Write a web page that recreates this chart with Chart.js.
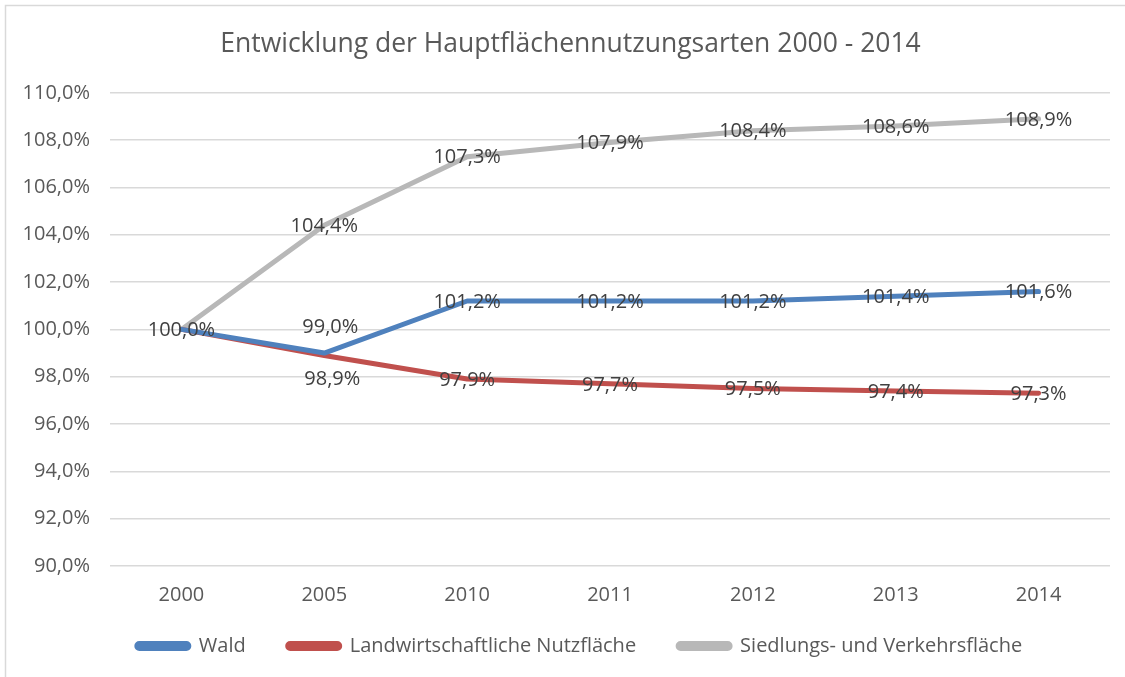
<!DOCTYPE html>
<html>
<head>
<meta charset="utf-8">
<script src="https://cdn.jsdelivr.net/npm/chart.js@4.4.1/dist/chart.umd.min.js"></script>
<style>
  html, body { margin: 0; padding: 0; background: #ffffff; }
  #wrap { width: 1125px; height: 677px; position: relative; }
</style>
</head>
<body>
<div id="wrap"><canvas id="c" width="1125" height="677"></canvas></div>
<script>
const categories = ['2000', '2005', '2010', '2011', '2012', '2013', '2014'];
const wald = [100.0, 99.0, 101.2, 101.2, 101.2, 101.4, 101.6];
const landwirtschaft = [100.0, 98.9, 97.9, 97.7, 97.5, 97.4, 97.3];
const siedlung = [100.0, 104.4, 107.3, 107.9, 108.4, 108.6, 108.9];
const seriesNames = ['Wald', 'Landwirtschaftliche Nutzfläche', 'Siedlungs- und Verkehrsfläche'];
const titleText = 'Entwicklung der Hauptflächennutzungsarten 2000 - 2014';

const FONT = '"Open Sans", "Noto Sans", sans-serif';
const fmt = v => v.toFixed(1).replace('.', ',') + '%';

// label placement tweaks (dataset index -> point index -> [dx, dy] in px)
const labelShift = { 0: { 1: [6, -27] }, 1: { 1: [8, 23] } };
const labelSkip = { 1: [0], 2: [0] };

const dataLabels = {
  id: 'dataLabels',
  afterDatasetsDraw(chart) {
    const ctx = chart.ctx;
    ctx.save();
    ctx.font = '20px ' + FONT;
    ctx.fillStyle = '#404040';
    ctx.textAlign = 'center';
    ctx.textBaseline = 'middle';
    chart.data.datasets.forEach((ds, di) => {
      const meta = chart.getDatasetMeta(di);
      meta.data.forEach((pt, i) => {
        if (labelSkip[di] && labelSkip[di].includes(i)) return;
        const sh = (labelShift[di] && labelShift[di][i]) || [0, 0];
        ctx.fillText(fmt(ds.data[i]), pt.x + sh[0], pt.y + 1 + sh[1]);
      });
    });
    ctx.restore();
  }
};

const frame = {
  id: 'frame',
  beforeDraw(chart) {
    const ctx = chart.ctx;
    ctx.save();
    ctx.fillStyle = '#ffffff';
    ctx.fillRect(0, 0, chart.width, chart.height);
    ctx.strokeStyle = '#d9d9d9';
    ctx.lineWidth = 1.5;
    ctx.beginPath();
    ctx.moveTo(5.5, chart.height);
    ctx.lineTo(5.5, 5.5);
    ctx.lineTo(chart.width, 5.5);
    ctx.stroke();
    ctx.restore();
  }
};

// nudge the legend and title blocks to where the reference places them
const blockNudge = {
  id: 'blockNudge',
  afterLayout(chart) {
    const lg = chart.legend;
    if (lg) {
      lg.left += 22; lg.right += 22;
      lg.top -= 11; lg.bottom -= 11;
    }
    const tb = chart.titleBlock;
    if (tb) { tb.left += 13; tb.right += 13; }
  }
};

const mk = (label, data, color) => ({
  label, data,
  borderColor: color, backgroundColor: color,
  borderWidth: 5, pointRadius: 0, pointHoverRadius: 0,
  tension: 0, borderCapStyle: 'round', borderJoinStyle: 'round', fill: false
});

new Chart(document.getElementById('c'), {
  type: 'line',
  data: {
    labels: categories,
    datasets: [
      mk(seriesNames[0], wald, '#4F81BD'),
      mk(seriesNames[1], landwirtschaft, '#C0504D'),
      mk(seriesNames[2], siedlung, '#B8B8B8')
    ]
  },
  options: {
    responsive: false,
    animation: false,
    events: [],
    layout: { padding: { left: 5, right: 15, top: 5, bottom: 0 } },
    plugins: {
      title: {
        display: true, text: titleText, color: '#595959',
        font: { family: FONT, size: 26.5, weight: 'normal' },
        padding: { top: 24, bottom: 32 }
      },
      legend: {
        position: 'bottom',
        labels: {
          color: '#595959',
          font: { family: FONT, size: 20 },
          boxWidth: 52, boxHeight: 5,
          useBorderRadius: true, borderRadius: 2.5,
          padding: 42
        }
      },
      tooltip: { enabled: false }
    },
    scales: {
      x: {
        offset: true,
        grid: { display: false, drawTicks: false },
        border: { display: false },
        ticks: { color: '#595959', font: { family: FONT, size: 20 }, padding: 17 },
        afterFit(s) { s.height = 39; }
      },
      y: {
        min: 90, max: 110,
        grid: { color: '#d9d9d9', lineWidth: 1.5, drawTicks: false },
        border: { display: false },
        ticks: {
          stepSize: 2, color: '#595959',
          font: { family: FONT, size: 20 }, padding: 20,
          callback: v => fmt(v)
        },
        afterFit(s) { s.width = 105; }
      }
    }
  },
  plugins: [frame, blockNudge, dataLabels]
});
</script>
</body>
</html>
